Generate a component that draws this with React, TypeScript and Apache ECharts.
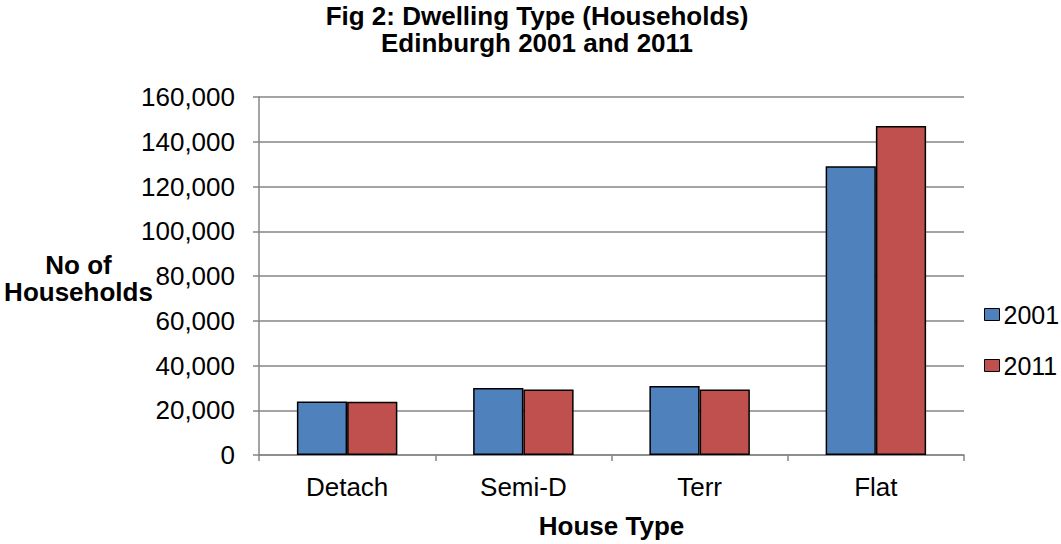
import React, { useEffect, useRef } from "react";
import * as echarts from "echarts";

const categories = ["Detach", "Semi-D", "Terr", "Flat"];
const series2001 = [23900, 30000, 30800, 129100];
const series2011 = [23800, 29300, 29300, 147000];
const seriesNames = ["2001", "2011"];
const titleLines = ["Fig 2: Dwelling Type (Households)", "Edinburgh 2001 and 2011"];
const yAxisTitle = ["No of", "Households"];
const xAxisTitle = "House Type";

const FONT = "'Liberation Sans', Arial, sans-serif";

export default function App() {
  const ref = useRef<HTMLDivElement>(null);
  useEffect(() => {
    if (!ref.current) return;
    const chart = echarts.init(ref.current, null, { renderer: "svg" });
    chart.setOption({
      animation: false,
      backgroundColor: "#ffffff",
      textStyle: { fontFamily: FONT },
      title: {
        text: titleLines.join("\n"),
        left: 537,
        top: 2,
        textAlign: "center",
        padding: 0,
        textStyle: { fontFamily: FONT, fontSize: 26, fontWeight: "bold", color: "#000", lineHeight: 27 },
      },
      graphic: [
        {
          type: "text",
          x: 78.5,
          y: 264.5,
          style: {
            text: yAxisTitle[0],
            font: `bold 26px ${FONT}`,
            fill: "#000",
            textAlign: "center",
            textVerticalAlign: "middle",
          },
        },
        {
          type: "text",
          x: 78.5,
          y: 291.5,
          style: {
            text: yAxisTitle[1],
            font: `bold 26px ${FONT}`,
            fill: "#000",
            textAlign: "center",
            textVerticalAlign: "middle",
          },
        },
      ],
      legend: {
        orient: "vertical",
        left: 984,
        top: 302,
        padding: 0,
        itemWidth: 15,
        itemHeight: 12,
        itemGap: 26,
        icon: "rect",
        data: seriesNames,
        itemStyle: { borderColor: "#000", borderWidth: 1 },
        textStyle: { fontFamily: FONT, fontSize: 25, color: "#000", padding: [0, 0, 0, -1] },
      },
      grid: { left: 259, right: 97, top: 97, bottom: 84, containLabel: false },
      xAxis: {
        type: "category",
        data: categories,
        name: xAxisTitle,
        nameLocation: "middle",
        nameGap: 58,
        nameTextStyle: { fontFamily: FONT, fontSize: 26, fontWeight: "bold", color: "#000" },
        axisLine: { lineStyle: { color: "#868686", width: 1.5 } },
        axisTick: { show: true, length: 6, lineStyle: { color: "#868686", width: 1.5 } },
        axisLabel: { fontFamily: FONT, fontSize: 26, color: "#000", margin: 19 },
      },
      yAxis: {
        type: "value",
        min: 0,
        max: 160000,
        interval: 20000,
        axisLine: { show: true, lineStyle: { color: "#868686", width: 1.5 } },
        axisTick: { show: true, length: 6, lineStyle: { color: "#868686", width: 1.5 } },
        splitLine: { lineStyle: { color: "#868686", width: 1.5 } },
        axisLabel: {
          fontFamily: FONT,
          fontSize: 26,
          color: "#000",
          margin: 24,
          formatter: (v: number) => v.toLocaleString("en-US"),
        },
      },
      series: [
        {
          name: seriesNames[0],
          type: "bar",
          data: series2001,
          barGap: "0%",
          barCategoryGap: "43%",
          itemStyle: { color: "#4F81BD", borderColor: "#000", borderWidth: 1.5 },
        },
        {
          name: seriesNames[1],
          type: "bar",
          data: series2011,
          barGap: "0%",
          barCategoryGap: "43%",
          itemStyle: { color: "#C0504D", borderColor: "#000", borderWidth: 1.5 },
        },
      ],
    });
    return () => chart.dispose();
  }, []);
  return <div ref={ref} style={{ width: 1061, height: 544, position: "absolute", left: 0, top: 0 }} />;
}
